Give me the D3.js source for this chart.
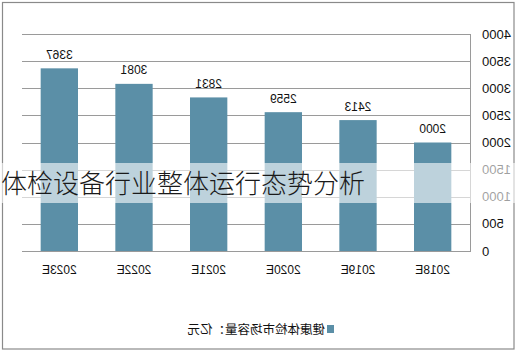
<!DOCTYPE html>
<html><head><meta charset="utf-8">
<script src="https://cdn.jsdelivr.net/npm/d3@7"></script>
<style>
html,body{margin:0;padding:0;background:#fff;}
svg{display:block;}
</style></head>
<body>
<svg id="c" width="518" height="352"></svg>
<script>
const categories = ["2018E","2019E","2020E","2021E","2022E","2023E"];
const values = [2000, 2413, 2559, 2831, 3081, 3367];
const yTicks = [0, 500, 1000, 1500, 2000, 2500, 3000, 3500, 4000];
const legendLabel = "健康体检市场容量：亿元";
const overlayTitle = "体检设备行业整体运行态势分析";

const W = 518, H = 352;
const svg = d3.select("#c");
const numFont = "'Liberation Sans', Arial, sans-serif";
const cjkFont = "'Noto Sans CJK SC', sans-serif";
const barColor = "#5b8fa7";

// Picture is mirrored horizontally: x range runs right-to-left.
const x = d3.scaleBand().domain(categories).range([470, 22]).paddingInner(0.5).paddingOuter(0.25);
const y = d3.scaleLinear().domain([0, 4000]).range([251, 34]);

// outer border
svg.append("rect").attr("x", 2.5).attr("y", 2.5).attr("width", 511.5).attr("height", 346.5)
  .attr("fill", "none").attr("stroke", "#8a8a8a").attr("stroke-width", 1.2);

// gridlines
svg.append("g").selectAll("line").data(yTicks).join("line")
  .attr("x1", 22).attr("x2", 470)
  .attr("y1", d => Math.round(y(d)) + 0.5).attr("y2", d => Math.round(y(d)) + 0.5)
  .attr("stroke", "#9a9a9a").attr("stroke-width", 1);

// vertical axis line (right side due to mirroring)
svg.append("line").attr("x1", 470.5).attr("x2", 470.5).attr("y1", y(4000)).attr("y2", y(0) + 1)
  .attr("stroke", "#9a9a9a");

// mirrored text helper
function mtext(g, tx, ty, str, size, anchor, font, color) {
  return g.append("text")
    .attr("transform", `translate(${tx},${ty}) scale(-1,1)`)
    .attr("text-anchor", anchor)
    .attr("font-family", font).attr("font-size", size)
    .attr("fill", color || "#111").text(str);
}

// y tick labels (mirrored; originally right-aligned at left)
const ty = svg.append("g");
yTicks.forEach(t => {
  mtext(ty, 482, y(t) + 4.5, String(t), 13, "end", numFont, "#111");
});

// bars
svg.append("g").selectAll("rect").data(values).join("rect")
  .attr("x", (d, i) => x(categories[i]))
  .attr("width", x.bandwidth())
  .attr("y", d => y(d))
  .attr("height", d => y(0) - y(d))
  .attr("fill", barColor);

// value labels
const vl = svg.append("g");
values.forEach((v, i) => {
  mtext(vl, x(categories[i]) + x.bandwidth() / 2, y(v) - 9.5, String(v), 12, "middle", numFont, "#111");
});

// category labels
const cl = svg.append("g");
categories.forEach(c => {
  mtext(cl, x(c) + x.bandwidth() / 2, 274, c, 12, "middle", numFont, "#111");
});

// legend (mirrored)
const lg = svg.append("g");
lg.append("rect").attr("x", 327).attr("y", 325).attr("width", 7).attr("height", 8).attr("fill", barColor);
mtext(lg, 325, 333.5, legendLabel, 12.5, "start", cjkFont, "#111");

// translucent overlay band with title
svg.append("rect").attr("x", 0).attr("y", 163).attr("width", W).attr("height", 40)
  .attr("fill", "#fff").attr("fill-opacity", 0.6);
svg.append("text").attr("x", 1).attr("y", 192.5)
  .attr("font-family", cjkFont).attr("font-size", 26).attr("font-weight", 300)
  .attr("fill", "#1a1a1a").text(overlayTitle);
</script>
</body></html>
